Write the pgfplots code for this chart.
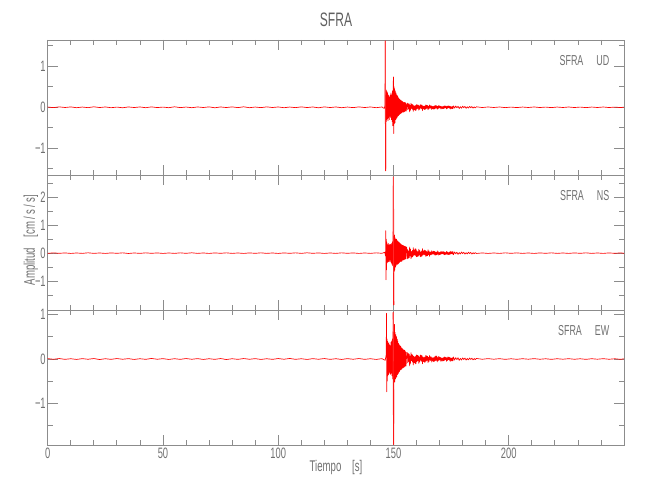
\documentclass[border=0pt]{standalone}
\usepackage{pgfplots}
\pgfplotsset{compat=1.18}
\usepackage{fontspec}
\setmainfont[FakeStretch=0.62]{Liberation Sans}
\definecolor{txt}{HTML}{707070}
\definecolor{ttl}{HTML}{606060}
\definecolor{axc}{HTML}{8C8C8C}
\pgfplotsset{seis/.style={
  scale only axis, width=432.2pt, height=101.25pt,
  xmin=0, xmax=250,
  xtick={0,50,...,200}, minor xtick={10,20,...,240},
  axis line style={axc, line width=0.6pt},
  tick style={axc, line width=0.6pt},
  major tick length=7.5pt, minor tick length=4pt,
  tick align=inside,
  ticklabel style={font=\fontsize{11.3}{12}\selectfont, text=txt},
  /pgf/number format/assume math mode=true,
  yticklabel style={xshift=2pt},
  xticklabel style={yshift=1pt},
},
trace/.style={color=red, no marks, line width=0.5pt, line join=round, line cap=round},
spike/.style={color=red!75, no marks, line width=0.8pt, line cap=butt}}
\newcommand{\stlabel}[1]{\node[anchor=east, font=\fontsize{10.8}{12}\selectfont, text=txt] at ([xshift=-7.5pt,yshift=-15.75pt]rel axis cs:1,1) {SFRA\hspace{0.9em}#1};}
\begin{document}
\begin{tikzpicture}
\path (0,0) rectangle (487.5pt,375pt);
% ---------- UD ----------
\begin{axis}[seis, at={(35.8pt,243.75pt)}, anchor=south west,
  ymin=-1.65, ymax=1.64, ytick={-1,0,1}, yticklabels={−1,0,1},
  minor ytick={-1.5,-0.5,0.5,1.5}, xticklabels={}]
\addplot[trace] coordinates {(0,0.006) (2.5,-0.008) (5,0.01) (7.5,-0.005) (10,0.009) (12.5,-0.01) (15,0.006) (17.5,-0.009) (20,0.012) (22.5,-0.006) (25,0.008) (27.5,-0.01) (30,0.005) (32.5,-0.012) (35,0.009) (37.5,-0.006) (40,0.008) (42.5,-0.01) (45,0.01) (47.5,-0.007) (50,0.005) (52.5,-0.01) (55,0.012) (57.5,-0.008) (60,0.006) (62.5,-0.01) (65,0.008) (67.5,-0.005) (70,0.01) (72.5,-0.012) (75,0.008) (77.5,-0.006) (80,0.01) (82.5,-0.008) (85,0.012) (87.5,-0.01) (90,0.006) (92.5,-0.008) (95,0.01) (97.5,-0.005) (100,0.008) (102.5,-0.01) (105,0.006) (107.5,-0.008) (110,0.01) (112.5,-0.006) (115,0.008) (117.5,-0.012) (120,0.01) (122.5,-0.006) (125,0.008) (127.5,-0.01) (130,0.006) (132.5,-0.008) (135,0.01) (137.5,-0.006) (140,0.008) (142.5,-0.01) (145,0.008) (146,-0.03) (146.3,0.05) (146.45,1.62)};
\addplot[spike] coordinates {(146.45,1.62) (146.6,-1.55)};
\addplot[trace] coordinates {(146.6,-1.55) (146.72,0.3) (146.82,-0.35) (146.92,0.42) (147.0,-0.3) (147.15,0.38) (147.3,-0.28) (147.45,0.35) (147.6,-0.33) (147.75,0.3) (147.9,-0.25) (148.05,0.28) (148.2,-0.3) (148.35,0.25) (148.5,-0.22) (148.65,0.3) (148.8,-0.25) (148.95,0.35) (149.1,-0.3) (149.25,0.3) (149.4,-0.35) (149.55,0.4) (149.7,-0.45) (149.85,0.55)
(150.0,0.74) (150.1,-0.64) (150.2,0.5) (150.35,-0.4) (150.5,0.45) (150.65,-0.38) (150.8,0.4) (150.95,-0.3) (151.1,0.35) (151.25,-0.28) (151.4,0.3) (151.55,-0.25) (151.7,0.28) (151.85,-0.22) (152.0,0.25) (152.15,-0.2) (152.3,0.22) (152.45,-0.18) (152.6,0.2) (152.75,-0.17) (152.9,0.18) (153.05,-0.15) (153.25,0.17) (153.45,-0.14) (153.65,0.15) (153.85,-0.12) (154.05,0.14) (154.25,-0.12) (154.45,0.12) (154.65,-0.11) (154.85,0.12) (155.05,-0.1) (155.25,0.11) (155.55,-0.09) (155.8,0.08)
(156.0,0.10) (156.2,-0.06) (156.4,0.09) (156.6,-0.04) (156.8,0.08) (157.0,-0.11) (157.2,0.05) (157.4,-0.07) (157.6,0.10) (157.8,-0.03) (158.0,0.072) (158.2,-0.048) (158.4,0.064) (158.6,-0.096) (158.8,0.04) (159.0,-0.056) (159.2,0.032) (159.4,-0.08) (159.6,0.048) (159.8,-0.072) (160.0,0.065) (160.2,-0.039) (160.4,0.059) (160.6,-0.026) (160.8,0.052) (161.0,-0.072) (161.2,0.033) (161.4,-0.046) (161.6,0.065) (161.8,-0.02) (162.0,0.059) (162.2,-0.039) (162.4,0.052) (162.6,-0.078) (162.8,0.033) (163.0,-0.039) (163.2,0.022) (163.4,-0.055) (163.6,0.033) (163.8,-0.05) (164.0,0.055) (164.2,-0.033) (164.4,0.05) (164.6,-0.022) (164.8,0.044) (165.0,-0.06) (165.2,0.028) (165.4,-0.039) (165.6,0.055) (165.8,-0.017) (166.0,0.04) (166.2,-0.027) (166.4,0.036) (166.6,-0.054) (166.8,0.023) (167.0,-0.032) (167.2,0.018) (167.4,-0.045) (167.6,0.027) (167.8,-0.04) (168.0,0.045) (168.2,-0.027) (168.4,0.04) (168.6,-0.018) (168.8,0.036) (169.0,-0.05) (169.2,0.023) (169.4,-0.032) (169.6,0.045) (169.8,-0.014) (170.0,0.032) (170.2,-0.021) (170.4,0.028) (170.6,-0.042) (170.8,0.018) (171.0,-0.025) (171.2,0.014) (171.4,-0.035) (171.6,0.021) (171.8,-0.032) (172.0,0.035) (172.2,-0.021) (172.4,0.032) (172.6,-0.014) (172.8,0.028) (173.0,-0.039) (173.2,0.018) (173.4,-0.025) (173.6,0.035) (173.8,-0.011) (174.0,0.032) (174.2,-0.021) (174.4,0.028) (174.6,-0.042) (174.8,0.018) (175.0,-0.025) (175.2,0.014) (175.4,-0.035) (175.6,0.021) (175.8,-0.032) (176.0,0.035)
(176.5,-0.02) (177,0.03) (177.5,-0.012) (178,0.025) (178.5,-0.03) (179,0.015) (179.5,-0.022) (180,0.028) (180.5,-0.01) (181,0.02) (181.5,-0.025) (182,0.012) (182.5,-0.018) (183,0.022) (183.5,-0.01) (184,0.018) (184.5,-0.02) (185,0.01) (185.5,-0.015) (186,0.012)
(188.5,-0.006) (191,0.008) (193.5,-0.005) (196,0.007) (198.5,-0.008) (201,0.005) (203.5,-0.007) (206,0.006) (208.5,-0.005) (211,0.008) (213.5,-0.006) (216,0.005) (218.5,-0.008) (221,0.006) (223.5,-0.005) (226,0.007) (228.5,-0.006) (231,0.005) (233.5,-0.008) (236,0.006) (238.5,-0.005) (241,0.007) (243.5,-0.006) (246,0.005) (248.5,-0.007) (250,0.004)};
\stlabel{UD}
\end{axis}
% ---------- NS ----------
\begin{axis}[seis, at={(35.8pt,142.5pt)}, anchor=south west,
  ymin=-2.03, ymax=2.79, ytick={-1,0,1,2}, yticklabels={−1,0,1,2},
  minor ytick={-1.5,-0.5,0.5,1.5,2.5}, xticklabels={}]
\addplot[trace] coordinates {(0,-0.008) (2.5,0.01) (5,-0.006) (7.5,0.008) (10,-0.01) (12.5,0.006) (15,-0.008) (17.5,0.012) (20,-0.008) (22.5,0.006) (25,-0.01) (27.5,0.008) (30,-0.006) (32.5,0.01) (35,-0.012) (37.5,0.006) (40,-0.008) (42.5,0.01) (45,-0.006) (47.5,0.008) (50,-0.01) (52.5,0.006) (55,-0.008) (57.5,0.01) (60,-0.006) (62.5,0.012) (65,-0.008) (67.5,0.006) (70,-0.01) (72.5,0.008) (75,-0.006) (77.5,0.01) (80,-0.008) (82.5,0.006) (85,-0.01) (87.5,0.008) (90,-0.006) (92.5,0.01) (95,-0.008) (97.5,0.006) (100,-0.01) (102.5,0.008) (105,-0.006) (107.5,0.01) (110,-0.008) (112.5,0.012) (115,-0.006) (117.5,0.008) (120,-0.01) (122.5,0.006) (125,-0.008) (127.5,0.01) (130,-0.006) (132.5,0.008) (135,-0.01) (137.5,0.006) (140,-0.008) (142.5,0.01) (145,-0.006) (146.2,0.03) (146.55,-0.1)
(146.65,0.8) (146.75,-0.95) (146.85,0.5) (146.95,-0.6) (147.1,0.4) (147.25,-0.35) (147.4,0.3) (147.55,-0.32) (147.7,0.35) (147.85,-0.3) (148.0,0.28) (148.15,-0.3) (148.3,0.3) (148.45,-0.25) (148.6,0.32) (148.75,-0.3) (148.9,0.3) (149.05,-0.35) (149.2,0.35) (149.35,-0.4) (149.5,0.4) (149.65,-0.45) (149.8,0.45) (149.95,2.72)};
\addplot[spike] coordinates {(149.95,2.72) (150.1,-1.85)};
\addplot[trace] coordinates {(150.1,-1.85) (150.2,0.6) (150.3,-0.65) (150.4,0.65) (150.55,-0.6) (150.7,0.55) (150.85,-0.5) (151.0,0.5) (151.15,-0.45) (151.3,0.5) (151.45,-0.4) (151.6,0.45) (151.75,-0.4) (151.9,0.42) (152.05,-0.38) (152.2,0.4) (152.35,-0.35) (152.5,0.38) (152.65,-0.33) (152.8,0.35) (152.95,-0.3) (153.15,0.33) (153.35,-0.3) (153.55,0.3) (153.75,-0.28) (153.95,0.28) (154.15,-0.25) (154.35,0.27) (154.55,-0.24) (154.75,0.25) (154.95,-0.22) (155.15,0.24) (155.35,-0.2) (155.55,0.22) (155.8,0.18)
(156.0,-0.20) (156.2,0.12) (156.4,-0.18) (156.6,0.08) (156.8,-0.16) (157.0,0.22) (157.2,-0.10) (157.4,0.14) (157.6,-0.20) (157.8,0.06) (158.0,-0.144) (158.2,0.096) (158.4,-0.128) (158.6,0.192) (158.8,-0.08) (159.0,0.112) (159.2,-0.064) (159.4,0.16) (159.6,-0.096) (159.8,0.144) (160.0,-0.13) (160.2,0.078) (160.4,-0.118) (160.6,0.052) (160.8,-0.104) (161.0,0.144) (161.2,-0.066) (161.4,0.092) (161.6,-0.13) (161.8,0.04) (162.0,-0.118) (162.2,0.078) (162.4,-0.104) (162.6,0.156) (162.8,-0.066) (163.0,0.078) (163.2,-0.044) (163.4,0.11) (163.6,-0.066) (163.8,0.10) (164.0,-0.11) (164.2,0.066) (164.4,-0.10) (164.6,0.044) (164.8,-0.088) (165.0,0.12) (165.2,-0.056) (165.4,0.078) (165.6,-0.11) (165.8,0.034) (166.0,-0.064) (166.2,0.043) (166.4,-0.058) (166.6,0.086) (166.8,-0.037) (167.0,0.051) (167.2,-0.029) (167.4,0.072) (167.6,-0.043) (167.8,0.064) (168.0,-0.072) (168.2,0.043) (168.4,-0.064) (168.6,0.029) (168.8,-0.058) (169.0,0.08) (169.2,-0.037) (169.4,0.051) (169.6,-0.072) (169.8,0.022) (170.0,-0.051) (170.2,0.034) (170.4,-0.045) (170.6,0.067) (170.8,-0.029) (171.0,0.04) (171.2,-0.022) (171.4,0.056) (171.6,-0.034) (171.8,0.051) (172.0,-0.056) (172.2,0.034) (172.4,-0.051) (172.6,0.022) (172.8,-0.045) (173.0,0.062) (173.2,-0.029) (173.4,0.04) (173.6,-0.056) (173.8,0.018) (174.0,-0.051) (174.2,0.034) (174.4,-0.045) (174.6,0.067) (174.8,-0.029) (175.0,0.04) (175.2,-0.022) (175.4,0.056) (175.6,-0.034) (175.8,0.051) (176.0,-0.056)
(176.5,0.04) (177,-0.025) (177.5,0.035) (178,-0.045) (178.5,0.02) (179,-0.03) (179.5,0.04) (180,-0.015) (180.5,0.03) (181,-0.035) (181.5,0.018) (182,-0.028) (182.5,0.032) (183,-0.015) (183.5,0.025) (184,-0.03) (184.5,0.015) (185,-0.022) (185.5,0.018) (186,-0.012)
(188.5,0.008) (191,-0.01) (193.5,0.006) (196,-0.009) (198.5,0.01) (201,-0.006) (203.5,0.009) (206,-0.008) (208.5,0.006) (211,-0.01) (213.5,0.008) (216,-0.006) (218.5,0.01) (221,-0.008) (223.5,0.006) (226,-0.009) (228.5,0.008) (231,-0.006) (233.5,0.01) (236,-0.008) (238.5,0.006) (241,-0.009) (243.5,0.008) (246,-0.006) (248.5,0.009) (250,-0.005)};
\stlabel{NS}
\end{axis}
% ---------- EW ----------
\begin{axis}[seis, at={(35.8pt,41.25pt)}, anchor=south west,
  ymin=-1.94, ymax=1.105, ytick={-1,0,1}, yticklabels={−1,0,1},
  minor ytick={-1.5,-0.5,0.5}]
\addplot[trace] coordinates {(0,0.008) (2.5,-0.006) (5,0.01) (7.5,-0.008) (10,0.006) (12.5,-0.01) (15,0.008) (17.5,-0.006) (20,0.01) (22.5,-0.012) (25,0.006) (27.5,-0.008) (30,0.01) (32.5,-0.006) (35,0.008) (37.5,-0.01) (40,0.006) (42.5,-0.008) (45,0.012) (47.5,-0.006) (50,0.008) (52.5,-0.01) (55,0.006) (57.5,-0.008) (60,0.01) (62.5,-0.006) (65,0.008) (67.5,-0.01) (70,0.006) (72.5,-0.008) (75,0.01) (77.5,-0.012) (80,0.006) (82.5,-0.008) (85,0.01) (87.5,-0.006) (90,0.008) (92.5,-0.01) (95,0.006) (97.5,-0.008) (100,0.01) (102.5,-0.006) (105,0.012) (107.5,-0.008) (110,0.006) (112.5,-0.01) (115,0.008) (117.5,-0.006) (120,0.01) (122.5,-0.008) (125,0.006) (127.5,-0.01) (130,0.008) (132.5,-0.006) (135,0.01) (137.5,-0.008) (140,0.006) (142.5,-0.01) (145,0.008) (146.4,-0.03) (146.85,0.1)
(146.95,1.03) (147.08,-0.74) (147.18,0.45) (147.28,-0.5) (147.4,0.4) (147.55,-0.38) (147.7,0.35) (147.85,-0.35) (148.0,0.38) (148.15,-0.3) (148.3,0.32) (148.45,-0.33) (148.6,0.3) (148.75,-0.35) (148.9,0.38) (149.05,-0.32) (149.2,0.4) (149.35,-0.38) (149.5,0.45) (149.65,-0.45) (149.8,0.5) (149.9,1.05)};
\addplot[spike] coordinates {(149.9,1.05) (150.05,-1.93)};
\addplot[trace] coordinates {(150.05,-1.93) (150.18,0.6) (150.28,-0.5) (150.4,0.78) (150.55,-0.52) (150.7,0.6) (150.85,-0.45) (151.0,0.55) (151.15,-0.42) (151.3,0.5) (151.45,-0.4) (151.6,0.45) (151.75,-0.35) (151.9,0.4) (152.05,-0.33) (152.2,0.35) (152.35,-0.3) (152.5,0.32) (152.65,-0.28) (152.8,0.3) (152.95,-0.25) (153.15,0.28) (153.35,-0.24) (153.55,0.25) (153.75,-0.22) (153.95,0.23) (154.15,-0.2) (154.35,0.21) (154.55,-0.19) (154.75,0.2) (154.95,-0.17) (155.15,0.18) (155.45,-0.16) (155.75,0.15)
(156.0,0.14) (156.2,-0.084) (156.4,0.126) (156.6,-0.056) (156.8,0.112) (157.0,-0.154) (157.2,0.07) (157.4,-0.098) (157.6,0.14) (157.8,-0.042) (158.0,0.10) (158.2,-0.067) (158.4,0.09) (158.6,-0.134) (158.8,0.056) (159.0,-0.078) (159.2,0.045) (159.4,-0.112) (159.6,0.067) (159.8,-0.10) (160.0,0.091) (160.2,-0.055) (160.4,0.083) (160.6,-0.036) (160.8,0.073) (161.0,-0.10) (161.2,0.046) (161.4,-0.064) (161.6,0.091) (161.8,-0.028) (162.0,0.083) (162.2,-0.055) (162.4,0.073) (162.6,-0.109) (162.8,0.046) (163.0,-0.055) (163.2,0.031) (163.4,-0.077) (163.6,0.046) (163.8,-0.07) (164.0,0.077) (164.2,-0.046) (164.4,0.07) (164.6,-0.031) (164.8,0.062) (165.0,-0.084) (165.2,0.039) (165.4,-0.055) (165.6,0.077) (165.8,-0.024) (166.0,0.052) (166.2,-0.035) (166.4,0.047) (166.6,-0.07) (166.8,0.03) (167.0,-0.042) (167.2,0.023) (167.4,-0.059) (167.6,0.035) (167.8,-0.052) (168.0,0.059) (168.2,-0.035) (168.4,0.07) (168.6,-0.03) (168.8,0.065) (169.0,-0.065) (169.2,0.03) (169.4,-0.042) (169.6,0.059) (169.8,-0.018) (170.0,0.042) (170.2,-0.027) (170.4,0.036) (170.6,-0.055) (170.8,0.023) (171.0,-0.033) (171.2,0.018) (171.4,-0.046) (171.6,0.027) (171.8,-0.042) (172.0,0.046) (172.2,-0.027) (172.4,0.042) (172.6,-0.018) (172.8,0.036) (173.0,-0.051) (173.2,0.023) (173.4,-0.033) (173.6,0.046) (173.8,-0.014) (174.0,0.042) (174.2,-0.027) (174.4,0.036) (174.6,-0.055) (174.8,0.023) (175.0,-0.033) (175.2,0.018) (175.4,-0.046) (175.6,0.027) (175.8,-0.042) (176.0,0.046)
(176.5,-0.025) (177,0.03) (177.5,-0.015) (178,0.028) (178.5,-0.032) (179,0.014) (179.5,-0.024) (180,0.026) (180.5,-0.012) (181,0.022) (181.5,-0.026) (182,0.012) (182.5,-0.02) (183,0.022) (183.5,-0.01) (184,0.018) (184.5,-0.02) (185,0.01) (185.5,-0.015) (186,0.012)
(188.5,-0.006) (191,0.008) (193.5,-0.005) (196,0.007) (198.5,-0.008) (201,0.005) (203.5,-0.007) (206,0.006) (208.5,-0.005) (211,0.008) (213.5,-0.006) (216,0.005) (218.5,-0.008) (221,0.006) (223.5,-0.005) (226,0.007) (228.5,-0.006) (231,0.005) (233.5,-0.008) (236,0.006) (238.5,-0.005) (241,0.007) (243.5,-0.006) (246,0.005) (248.5,-0.007) (250,0.004)};
\stlabel{EW}
\end{axis}
\node[font=\fontsize{14.6}{16}\selectfont, text=ttl] at (252pt,360pt) {SFRA};
\node[font=\fontsize{11.6}{12}\selectfont, text=txt] at (252pt,24pt) {Tiempo\hspace{0.7em}[s]};
\node[font=\fontsize{11.6}{12}\selectfont, text=txt, rotate=90] at (23.25pt,195pt) {Amplitud\hspace{0.7em}[cm\kern0.15em/\kern0.15em s\kern0.15em/\kern0.15em s]};
\end{tikzpicture}
\end{document}
